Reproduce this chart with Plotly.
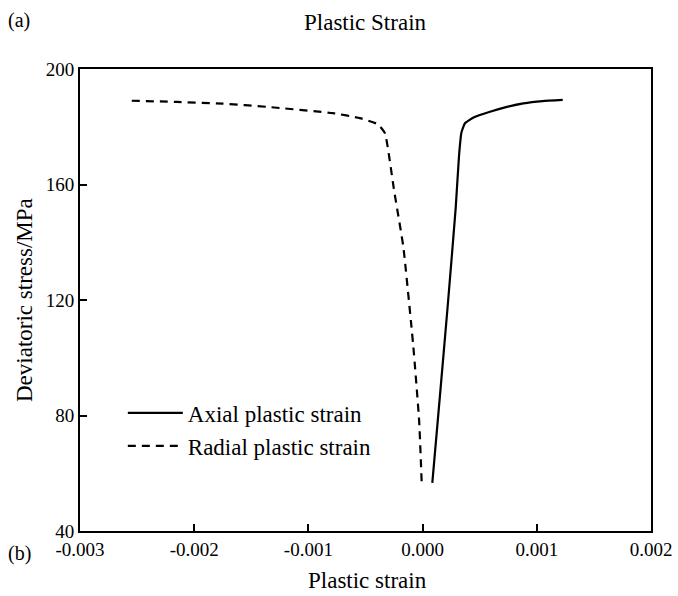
import plotly.graph_objects as go

# Axial plastic strain branch (solid)
axial_strain = [0.000085, 0.00015, 0.00022, 0.00029, 0.000319, 0.000340, 0.000371,
                0.00045, 0.00059, 0.00073, 0.000882, 0.00105, 0.001227]
axial_stress = [56.7, 86.0, 118.0, 152.0, 170.0, 178.0, 181.2,
                183.3, 185.2, 186.8, 188.1, 188.9, 189.3]

# Radial plastic strain branch (dashed)
radial_strain = [-0.002547, -0.00215, -0.00175, -0.001365, -0.000784, -0.00055,
                 -0.00039, -0.000329, -0.00025, -0.000169, -0.000081, -0.00003, -0.0000079]
radial_stress = [189.0, 188.6, 188.0, 186.9, 184.7, 183.0,
                 180.85, 177.7, 158.0, 138.5, 103.8, 78.0, 56.7]

x_ticks = [-0.003, -0.002, -0.001, 0.0, 0.001, 0.002]
x_tick_text = ["-0.003", "-0.002", "-0.001", "0.000", "0.001", "0.002"]
y_ticks = [40, 80, 120, 160, 200]

FONT = "Liberation Serif"
L, R, T, B = 80, 27, 69, 65
W, H = 678, 596

fig = go.Figure()
fig.add_trace(go.Scatter(
    x=axial_strain, y=axial_stress, mode="lines", name="Axial plastic strain",
    line=dict(color="black", width=2.2, shape="spline", smoothing=0.4),
))
fig.add_trace(go.Scatter(
    x=radial_strain, y=radial_stress, mode="lines", name="Radial plastic strain",
    line=dict(color="black", width=2.2, dash="8px,6px", shape="spline", smoothing=0.4),
))

axis_common = dict(
    ticks="inside", ticklen=7, tickwidth=1.5, tickcolor="black",
    showline=True, linecolor="black", linewidth=2, mirror=True,
    showgrid=False, zeroline=False, automargin=False,
    tickfont=dict(family=FONT, size=19),
)

fig.update_layout(
    width=W, height=H,
    margin=dict(l=L, r=R, t=T, b=B),
    paper_bgcolor="white", plot_bgcolor="white",
    font=dict(family=FONT, size=19, color="black"),
    showlegend=True,
    legend=dict(
        x=0.075, y=0.302, xanchor="left", yanchor="top",
        bgcolor="rgba(0,0,0,0)", font=dict(family=FONT, size=23),
        tracegroupgap=0, itemwidth=55,
    ),
    xaxis=dict(range=[-0.003, 0.002], tickvals=x_ticks, ticktext=x_tick_text, **axis_common),
    yaxis=dict(range=[40, 200], tickvals=y_ticks, **axis_common),
)

# Text labels placed by pixel position, converted to paper coordinates
pw, ph = W - L - R, H - T - B
labels = [
    ("Plastic Strain", 365, 22, 0, 23),
    ("Plastic strain", 367, 580, 0, 23),
    ("Deviatoric stress/MPa", 24, 300, -90, 23),
    ("(a)", 19, 20, 0, 20),
    ("(b)", 19, 553, 0, 20),
]
for text, px, py, ang, size in labels:
    fig.add_annotation(
        text=text, x=(px - L) / pw, y=1 - (py - T) / ph,
        xref="paper", yref="paper", xanchor="center", yanchor="middle",
        showarrow=False, textangle=ang, font=dict(family=FONT, size=size),
        borderpad=0,
    )

fig.write_html("out.html")
